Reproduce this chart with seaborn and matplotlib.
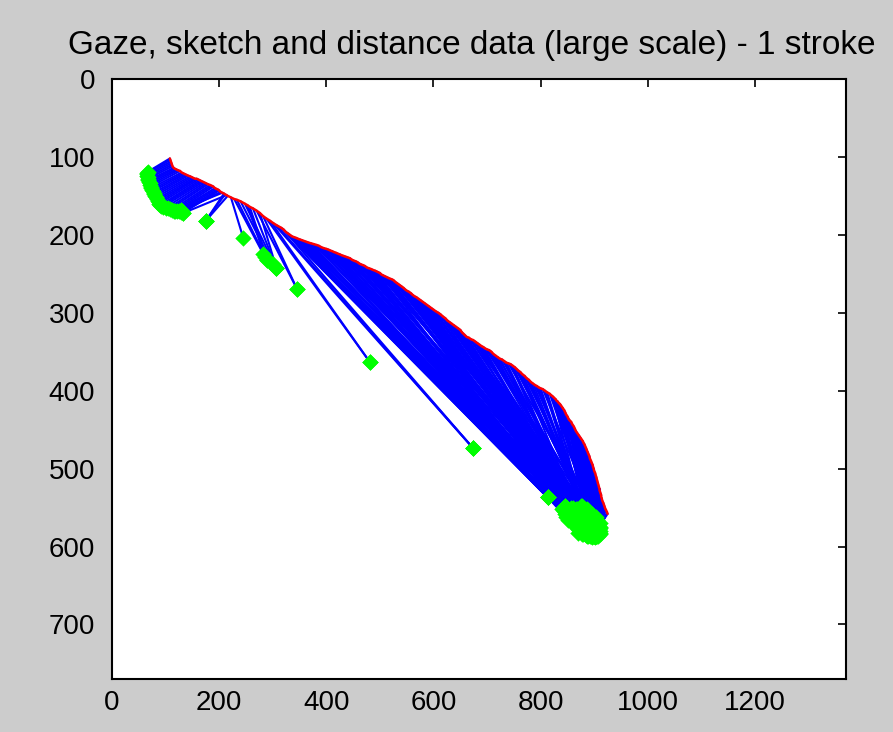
import pandas as pd
import matplotlib
matplotlib.use("Agg")
import matplotlib.pyplot as plt
import seaborn as sns

# pen stroke samples (screen coords, y grows downwards)
stroke_x = [108, 109, 110, 111, 112, 113, 115, 117, 120, 123, 127, 130, 133, 136, 139, 142,
            146, 149, 152, 155, 158, 161, 164, 167, 170, 173, 176, 179, 183, 186, 189, 192,
            195, 198, 200, 203, 206, 209, 211, 214, 216,
            222, 228, 233, 240, 248, 253, 257, 263, 270, 276, 282, 288, 295, 301, 308,
            316, 320, 324, 328, 332, 336, 340, 344, 347, 351, 355, 359, 363, 367, 372, 377,
            382, 386, 391, 395, 400, 404, 407, 411, 414, 418, 421, 425, 428, 432, 436, 440,
            444, 448, 451, 455, 458, 462, 465, 469, 472, 476, 480, 484, 487, 491, 494, 497,
            500, 503, 506, 509, 512, 515, 518, 522, 525, 528, 532, 536, 540, 544, 547, 551,
            554, 558, 561, 565, 568,
            572, 576, 580, 584, 588, 592, 596, 600, 604, 609,
            613, 618, 622, 626, 630, 634, 638, 642, 646, 650,
            653, 656, 659, 662, 666, 670, 674, 678, 682, 686,
            690, 693, 697, 700, 704, 708, 712, 716, 720, 724,
            728, 732, 736, 740, 744, 748, 752, 755, 758, 762,
            766, 770, 774, 778, 782, 786, 790, 793, 797, 800,
            804, 808, 812, 817, 820, 822, 825, 828, 830, 832,
            834, 836, 838, 841, 844, 846, 848, 850, 852, 854,
            857, 859, 862, 864, 866, 868, 871, 873, 875, 877,
            879, 880, 882, 883, 885, 886, 888, 889, 891, 892,
            894, 895, 897, 898, 899, 900, 902, 903, 904, 905,
            906, 907, 908, 909, 910, 910, 911, 912, 913, 913,
            914, 915, 917, 918, 919, 920, 921, 922, 924, 925]
stroke_y = [102, 104, 106, 108, 110, 112, 114, 115, 116, 117, 118, 120, 121, 122, 123, 124,
            125, 126, 127, 128, 128, 129, 130, 131, 132, 133, 134, 135, 136, 137, 138, 140,
            141, 142, 143, 145, 146, 147, 148, 149, 150,
            152, 154, 155, 157, 160, 162, 164, 166, 169, 172, 176, 179, 182, 185, 188,
            191, 193, 196, 198, 200, 202, 203, 204, 205, 206, 207, 208, 209, 210, 211, 212,
            213, 214, 216, 217, 218, 219, 220, 221, 222, 223, 224, 225, 226, 227, 228, 229,
            230, 232, 233, 234, 235, 237, 238, 239, 240, 242, 243, 244, 245, 246, 247, 248,
            249, 251, 252, 253, 254, 255, 256, 257, 258, 260, 262, 264, 266, 268, 270, 272,
            273, 275, 277, 279, 280,
            282, 284, 286, 288, 290, 292, 294, 296, 298, 300,
            302, 305, 307, 310, 312, 314, 316, 318, 320, 322,
            325, 327, 329, 331, 332, 334, 335, 337, 339, 341,
            343, 344, 346, 347, 348, 350, 353, 355, 357, 359,
            360, 362, 364, 365, 366, 368, 370, 372, 374, 376,
            379, 381, 384, 386, 389, 391, 393, 394, 396, 397,
            398, 400, 402, 404, 406, 407, 409, 411, 413, 414,
            416, 417, 419, 422, 425, 428, 431, 433, 436, 438,
            440, 443, 446, 449, 452, 454, 457, 459, 461, 463,
            465, 467, 469, 471, 474, 476, 479, 481, 484, 487,
            490, 492, 495, 498, 500, 503, 506, 509, 511, 514,
            516, 519, 521, 524, 526, 528, 530, 532, 534, 536,
            538, 541, 544, 546, 548, 550, 552, 553, 556, 558]

# gaze sample matched to each stroke sample
gaze_x = [67, 66, 66, 66, 67, 67, 68, 69, 70, 71, 72, 73, 75, 76, 78, 79,
          80, 82, 84, 85, 87, 88, 90, 92, 95, 100, 105, 108, 112, 115, 118, 121,
          125, 128, 132, 130, 128, 175, 175, 133, 175,
          245, 282, 289, 300, 307, 285, 290, 307, 345, 307, 345, 481, 481, 673, 673,
          813, 673, 813, 842, 813, 845, 840, 848, 813, 850, 843, 852, 846, 855, 848, 858,
          845, 860, 852, 856, 862, 850, 865, 858, 868, 854, 862, 870, 848, 866, 872, 860,
          874, 856, 868, 876, 864, 880, 870, 858, 878, 866, 882, 872, 885, 862, 876, 888,
          870, 880, 884, 874, 890, 878, 866, 892, 882, 886, 876, 894, 880, 888, 872, 896,
          884, 890, 878, 898, 886,
          890, 872, 886, 868, 894, 878, 880, 892, 870, 896,
          884, 876, 898, 882, 890, 874, 902, 886, 894, 878,
          900, 884, 886, 872, 905, 890, 896, 880, 904, 888,
          892, 876, 908, 898, 884, 906, 894, 882, 910, 890,
          900, 886, 896, 904, 878, 888, 908, 898, 900, 884,
          894, 906, 890, 902, 880, 890, 910, 896, 898, 886,
          905, 892, 895, 900, 908, 888, 900, 896, 903, 893,
          910, 890, 898, 904, 905, 894, 900, 892, 908, 898,
          896, 904, 902, 894, 906, 900, 898, 910, 892, 897,
          904, 900, 896, 907, 903, 899, 909, 904, 901, 906,
          898, 908, 903, 906, 900, 905, 902, 909, 897, 904,
          906, 900, 908, 903, 910, 905, 899, 907, 902, 904,
          909, 901, 906, 903, 908, 905, 910, 902, 906, 905]
gaze_y = [119, 120, 122, 124, 126, 128, 130, 132, 134, 136, 138, 140, 142, 144, 146, 148,
          150, 152, 154, 156, 158, 160, 162, 163, 164, 165, 166, 167, 168, 169, 170, 170,
          170, 171, 172, 170, 168, 182, 182, 172, 182,
          204, 224, 232, 238, 243, 228, 232, 243, 269, 243, 269, 363, 363, 473, 473,
          537, 473, 537, 550, 537, 548, 552, 556, 537, 550, 555, 560, 548, 553, 562, 556,
          558, 550, 566, 558, 562, 552, 556, 568, 552, 560, 572, 560, 555, 566, 556, 564,
          570, 550, 575, 562, 558, 568, 578, 562, 574, 552, 560, 566, 578, 570, 548, 566,
          582, 556, 572, 560, 578, 584, 562, 570, 552, 580, 568, 562, 576, 586, 574, 578,
          560, 570, 582, 584, 566,
          578, 560, 560, 570, 583, 548, 565, 570, 575, 580,
          585, 556, 574, 572, 560, 566, 582, 552, 566, 580,
          586, 562, 578, 552, 572, 570, 558, 584, 580, 575,
          586, 562, 568, 578, 556, 585, 570, 566, 576, 580,
          570, 586, 588, 562, 572, 582, 580, 566, 575, 578,
          572, 570, 556, 584, 560, 568, 582, 576, 580, 570,
          566, 582, 585, 564, 575, 578, 582, 568, 578, 578,
          570, 574, 586, 572, 582, 580, 568, 566, 585, 572,
          575, 584, 572, 586, 580, 578, 568, 575, 580, 582,
          586, 572, 584, 578, 583, 576, 582, 574, 580, 586,
          578, 572, 585, 582, 576, 579, 588, 578, 580, 584,
          574, 586, 580, 576, 584, 572, 582, 586, 578, 580,
          576, 584, 578, 586, 582, 576, 580, 582, 584, 579]

x_ticks = [0, 200, 400, 600, 800, 1000, 1200]
y_ticks = [0, 100, 200, 300, 400, 500, 600, 700]

sns.set_style("white")
plt.rcParams['font.family'] = ['Liberation Sans', 'DejaVu Sans']

# one row per line end, one unit per stroke/gaze pair
pairs = pd.DataFrame({
    "x": stroke_x + gaze_x,
    "y": stroke_y + gaze_y,
    "pair": list(range(len(stroke_x))) * 2,
})

fig = plt.figure(figsize=(8.93, 7.32), dpi=100, facecolor="#cccccc")
ax = fig.add_axes([112 / 893, 1 - 679 / 732, (846 - 112) / 893, (679 - 79) / 732])
ax.set_facecolor("white")

sns.lineplot(data=pairs, x="x", y="y", units="pair", estimator=None, sort=False,
             color="#0000ff", lw=1.5, ax=ax, zorder=2)
sns.lineplot(x=stroke_x, y=stroke_y, estimator=None, sort=False,
             color="#ff0000", lw=1.8, ax=ax, zorder=3)
sns.scatterplot(x=gaze_x, y=gaze_y, marker="D", color="#00ff00", s=70,
                linewidth=0, ax=ax, zorder=4)

ax.set_xlim(0, 1370)
ax.set_ylim(770, 0)
ax.set_xticks(x_ticks)
ax.set_yticks(y_ticks)
ax.set_xlabel("")
ax.set_ylabel("")
ax.tick_params(direction="in", length=6, width=1.2, top=True, right=True,
               labelsize=20, colors="black")
ax.tick_params(axis="x", pad=8)
ax.tick_params(axis="y", pad=12)
for s in ax.spines.values():
    s.set_color("black")
    s.set_linewidth(1.5)

ax.set_title("Gaze, sketch and distance data (large scale) - 1 stroke",
             fontsize=24, pad=18, color="black", x=0.49)

fig.savefig("out.png", dpi=100, facecolor=fig.get_facecolor())
